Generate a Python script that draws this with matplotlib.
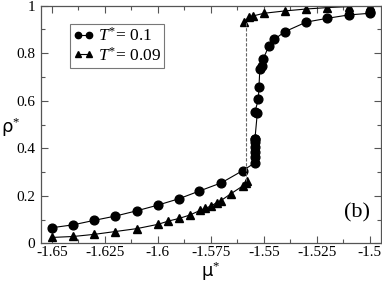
import matplotlib
matplotlib.use('Agg')
import matplotlib.pyplot as plt
from matplotlib.ticker import MultipleLocator, FixedFormatter, FixedLocator

plt.rcParams['axes.unicode_minus'] = False
plt.rcParams['font.family'] = 'Liberation Serif'
plt.rcParams['mathtext.fontset'] = 'custom'
plt.rcParams['mathtext.it'] = 'Liberation Serif:italic'
plt.rcParams['mathtext.rm'] = 'Liberation Serif'

# T* = 0.1 (circles)
mu_t01 = [-1.65, -1.64, -1.63, -1.62, -1.61, -1.60, -1.59, -1.5805, -1.57, -1.56,
          -1.5542, -1.5542, -1.5542, -1.5542, -1.5542, -1.5542, -1.5542,
          -1.5531, -1.5542, -1.5526, -1.5523, -1.5519, -1.5511, -1.5503,
          -1.5476, -1.545, -1.540, -1.530, -1.520, -1.510, -1.500, -1.500]
rho_t01 = [0.066, 0.078, 0.097, 0.115, 0.137, 0.161, 0.188, 0.220, 0.255, 0.306,
           0.339, 0.365, 0.386, 0.407, 0.428, 0.438, 0.440,
           0.547, 0.554, 0.606, 0.658, 0.734, 0.748, 0.776,
           0.831, 0.859, 0.891, 0.931, 0.947, 0.961, 0.968, 0.975]

# T* = 0.09 (triangles), low-density branch
mu_t009_low = [-1.65, -1.64, -1.63, -1.62, -1.61, -1.60, -1.595, -1.59, -1.585,
               -1.58, -1.5778, -1.575, -1.5723, -1.5704, -1.5657, -1.5597,
               -1.5582, -1.5579]
rho_t009_low = [0.025, 0.029, 0.038, 0.050, 0.062, 0.080, 0.094, 0.105, 0.119,
                0.139, 0.147, 0.157, 0.171, 0.179, 0.208, 0.243,
                0.255, 0.264]
# T* = 0.09, high-density branch
mu_t009_high = [-1.5594, -1.5569, -1.555, -1.55, -1.54, -1.53, -1.52, -1.51, -1.50]
rho_t009_high = [0.933, 0.951, 0.957, 0.968, 0.978, 0.986, 0.992, 0.996, 0.999]

# coexistence line
mu_coex = -1.5585
rho_coex = [0.264, 0.933]

fig = plt.figure(figsize=(3.82, 2.84), dpi=100)
ax = fig.add_axes([0.107, 0.143, 0.89, 0.837])

ax.plot(mu_t01, rho_t01, '-o', color='black', lw=0.8, ms=6.3, label=r'$T^{*}$= 0.1')
ax.plot(mu_t009_low, rho_t009_low, '-^', color='black', lw=0.8, ms=6,
        label=r'$T^{*}$= 0.09')
ax.plot(mu_t009_high, rho_t009_high, '-^', color='black', lw=0.8, ms=6)
ax.plot([mu_coex, mu_coex], rho_coex, '--', color='#666666', lw=0.8, dashes=(3, 1.5))

ax.set_xlim(-1.6552, -1.4948)
ax.set_ylim(0, 1)

xt = [-1.65, -1.625, -1.6, -1.575, -1.55, -1.525, -1.5]
ax.xaxis.set_major_locator(FixedLocator(xt))
ax.xaxis.set_major_formatter(FixedFormatter(['-1.65', '-1.625', '-1.6', '-1.575',
                                             '-1.55', '-1.525', '-1.5']))
ax.xaxis.set_minor_locator(MultipleLocator(0.0125))
yt = [0, 0.2, 0.4, 0.6, 0.8, 1]
ax.yaxis.set_major_locator(FixedLocator(yt))
ax.yaxis.set_major_formatter(FixedFormatter(['0', '0.2', '0.4', '0.6', '0.8', '1']))
ax.yaxis.set_minor_locator(MultipleLocator(0.1))

ax.tick_params(which='both', direction='in', top=True, right=True, labelsize=11,
               color='#555555', width=0.8)
ax.tick_params(axis='x', pad=2)
ax.tick_params(axis='y', pad=4)
ax.tick_params(which='major', length=5)
ax.tick_params(which='minor', length=3)
for s in ax.spines.values():
    s.set_color('#555555')
    s.set_linewidth(0.9)

ax.set_xlabel(r'μ$^{*}$', fontsize=13, family='DejaVu Sans', labelpad=0)
ax.set_ylabel(r'ρ$^{*}$', fontsize=13, family='DejaVu Sans', rotation=0)
ax.yaxis.set_label_coords(-0.088, 0.44)

ax.text(0.93, 0.11, '(b)', transform=ax.transAxes, fontsize=16, ha='center')

leg = ax.legend(loc='upper left', bbox_to_anchor=(0.085, 0.925), numpoints=2,
                fontsize=12.5, frameon=True, fancybox=False, handlelength=1.2,
                markerscale=0.72, handletextpad=0.2, borderpad=0.2,
                labelspacing=0.1, borderaxespad=0)
leg.get_frame().set_edgecolor('#555555')
leg.get_frame().set_linewidth(0.8)

fig.savefig('out.png', dpi=100)
